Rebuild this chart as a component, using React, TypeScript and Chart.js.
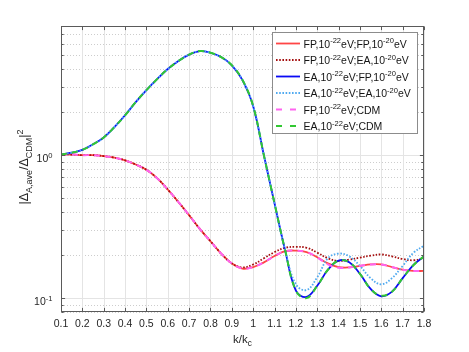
import React, { useEffect, useRef } from 'react';
import { Chart, registerables } from 'chart.js';

Chart.register(...registerables);

const K = [0.1, 0.15, 0.2, 0.25, 0.3, 0.35, 0.4, 0.45, 0.5, 0.55, 0.6, 0.65, 0.7, 0.75, 0.8, 0.85, 0.9, 0.95, 1.0, 1.05, 1.1, 1.15, 1.2, 1.25, 1.3, 1.35, 1.4, 1.45, 1.5, 1.55, 1.6, 1.65, 1.7, 1.75, 1.8];

const FP_FP = [1.01, 1.01, 1.0, 1.0, 0.985, 0.96, 0.92, 0.86, 0.79, 0.69, 0.575, 0.47, 0.38, 0.305, 0.25, 0.205, 0.175, 0.161, 0.165, 0.178, 0.197, 0.213, 0.215, 0.21, 0.193, 0.175, 0.165, 0.164, 0.168, 0.172, 0.172, 0.165, 0.158, 0.155, 0.155];
const FP_EA = [1.01, 1.01, 1.0, 1.0, 0.985, 0.96, 0.92, 0.86, 0.79, 0.69, 0.575, 0.47, 0.38, 0.305, 0.25, 0.205, 0.175, 0.164, 0.172, 0.19, 0.21, 0.225, 0.228, 0.225, 0.208, 0.19, 0.182, 0.186, 0.192, 0.198, 0.202, 0.196, 0.188, 0.184, 0.19];
const EA_FP = [1.01, 1.04, 1.09, 1.19, 1.33, 1.57, 1.9, 2.35, 2.85, 3.4, 4.0, 4.55, 5.05, 5.34, 5.2, 4.85, 4.25, 3.35, 2.2, 1.0, 0.46, 0.215, 0.113, 0.102, 0.122, 0.158, 0.183, 0.178, 0.148, 0.116, 0.103, 0.111, 0.138, 0.17, 0.196];
const EA_EA = [1.01, 1.04, 1.09, 1.19, 1.33, 1.57, 1.9, 2.35, 2.85, 3.4, 4.0, 4.55, 5.05, 5.34, 5.2, 4.85, 4.25, 3.35, 2.2, 1.0, 0.46, 0.215, 0.125, 0.114, 0.14, 0.19, 0.205, 0.196, 0.168, 0.138, 0.125, 0.138, 0.168, 0.207, 0.233];
const FP_CDM = [1.01, 1.01, 1.0, 1.0, 0.985, 0.96, 0.92, 0.86, 0.79, 0.69, 0.575, 0.47, 0.38, 0.305, 0.25, 0.205, 0.175, 0.161, 0.165, 0.178, 0.197, 0.213, 0.215, 0.21, 0.193, 0.172, 0.163, 0.164, 0.168, 0.172, 0.172, 0.165, 0.158, 0.155, 0.155];
const EA_CDM = [1.01, 1.04, 1.09, 1.19, 1.33, 1.57, 1.9, 2.35, 2.85, 3.4, 4.0, 4.55, 5.05, 5.34, 5.2, 4.85, 4.25, 3.35, 2.2, 1.0, 0.46, 0.215, 0.113, 0.1, 0.122, 0.158, 0.183, 0.178, 0.148, 0.116, 0.104, 0.111, 0.138, 0.17, 0.196];

const X_TICKS = [0.1, 0.2, 0.3, 0.4, 0.5, 0.6, 0.7, 0.8, 0.9, 1, 1.1, 1.2, 1.3, 1.4, 1.5, 1.6, 1.7, 1.8];
const X_TICK_LABELS = ['0.1', '0.2', '0.3', '0.4', '0.5', '0.6', '0.7', '0.8', '0.9', '1', '1.1', '1.2', '1.3', '1.4', '1.5', '1.6', '1.7', '1.8'];
const Y_MAJOR = [0.1, 1];
const Y_MAJOR_EXP = ['-1', '0'];
const Y_MINOR = [0.08, 0.09, 0.2, 0.3, 0.4, 0.5, 0.6, 0.7, 0.8, 0.9, 2, 3, 4, 5, 6, 7, 8];

type Seg = [string, number]; // 0 normal, 1 superscript, -1 subscript

const LEGEND: Seg[][] = [
  [['FP,10', 0], ['-22', 1], ['eV;FP,10', 0], ['-20', 1], ['eV', 0]],
  [['FP,10', 0], ['-22', 1], ['eV;EA,10', 0], ['-20', 1], ['eV', 0]],
  [['EA,10', 0], ['-22', 1], ['eV;FP,10', 0], ['-20', 1], ['eV', 0]],
  [['EA,10', 0], ['-22', 1], ['eV;EA,10', 0], ['-20', 1], ['eV', 0]],
  [['FP,10', 0], ['-22', 1], ['eV;CDM', 0]],
  [['EA,10', 0], ['-22', 1], ['eV;CDM', 0]],
];

const FONT = '"Liberation Sans", Arial, Helvetica, sans-serif';

const STYLES = [
  { color: 'rgb(255,70,70)', dash: [] as number[], width: 1.8 },
  { color: 'rgb(165,15,15)', dash: [1.6, 1.6], width: 1.8 },
  { color: 'rgb(10,10,245)', dash: [] as number[], width: 1.8 },
  { color: 'rgb(80,170,240)', dash: [1.6, 1.6], width: 1.8 },
  { color: 'rgb(255,100,240)', dash: [6, 5], width: 2 },
  { color: 'rgb(50,200,50)', dash: [6, 5], width: 2 },
];
const SERIES = [FP_FP, FP_EA, EA_FP, EA_EA, FP_CDM, EA_CDM];

function richWidth(ctx: CanvasRenderingContext2D, segs: Seg[], size: number) {
  let w = 0;
  for (const [t, s] of segs) {
    ctx.font = `${s === 0 ? size : size * 0.72}px ${FONT}`;
    w += ctx.measureText(t).width;
  }
  return w;
}

function drawRich(ctx: CanvasRenderingContext2D, segs: Seg[], x: number, y: number, size: number, align: 'left' | 'center' | 'right') {
  const w = richWidth(ctx, segs, size);
  let cx = align === 'left' ? x : align === 'center' ? x - w / 2 : x - w;
  ctx.textAlign = 'left';
  ctx.textBaseline = 'alphabetic';
  for (const [t, s] of segs) {
    ctx.font = `${s === 0 ? size : size * 0.72}px ${FONT}`;
    const off = s === 1 ? -size * 0.42 : s === -1 ? size * 0.3 : 0;
    ctx.fillText(t, cx, y + off);
    cx += ctx.measureText(t).width;
  }
}

const decorPlugin = {
  id: 'decor',
  beforeDatasetsDraw(chart: any) {
    const { ctx, chartArea: a, scales } = chart;
    const xs = scales.x, ys = scales.y;
    ctx.save();
    ctx.lineWidth = 1;
    ctx.strokeStyle = 'rgb(205,205,205)';
    ctx.setLineDash([1, 2]);
    for (const v of Y_MINOR) {
      const y = Math.round(ys.getPixelForValue(v)) + 0.5;
      ctx.beginPath(); ctx.moveTo(a.left, y); ctx.lineTo(a.right, y); ctx.stroke();
    }
    ctx.setLineDash([]);
    ctx.strokeStyle = 'rgb(228,228,228)';
    for (const v of X_TICKS) {
      const x = Math.round(xs.getPixelForValue(v)) + 0.5;
      ctx.beginPath(); ctx.moveTo(x, a.top); ctx.lineTo(x, a.bottom); ctx.stroke();
    }
    for (const v of Y_MAJOR) {
      const y = Math.round(ys.getPixelForValue(v)) + 0.5;
      ctx.beginPath(); ctx.moveTo(a.left, y); ctx.lineTo(a.right, y); ctx.stroke();
    }
    ctx.restore();
  },
  afterDraw(chart: any) {
    const { ctx, chartArea: a, scales } = chart;
    const xs = scales.x, ys = scales.y;
    ctx.save();
    ctx.strokeStyle = 'rgb(90,90,90)';
    ctx.lineWidth = 1;
    const L = Math.round(a.left) + 0.5, R = Math.round(a.right) - 0.5, T = Math.round(a.top) + 0.5, B = Math.round(a.bottom) - 0.5;
    ctx.strokeRect(L, T, R - L, B - T);
    ctx.beginPath();
    for (const v of X_TICKS) {
      const x = Math.round(xs.getPixelForValue(v)) + 0.5;
      ctx.moveTo(x, B); ctx.lineTo(x, B - 3.6);
      ctx.moveTo(x, T); ctx.lineTo(x, T + 3.6);
    }
    for (const v of Y_MAJOR) {
      const y = Math.round(ys.getPixelForValue(v)) + 0.5;
      ctx.moveTo(L, y); ctx.lineTo(L + 3.6, y);
      ctx.moveTo(R, y); ctx.lineTo(R - 3.6, y);
    }
    for (const v of Y_MINOR) {
      const y = Math.round(ys.getPixelForValue(v)) + 0.5;
      ctx.moveTo(L, y); ctx.lineTo(L + 2.2, y);
      ctx.moveTo(R, y); ctx.lineTo(R - 2.2, y);
    }
    ctx.stroke();

    ctx.fillStyle = 'rgb(38,38,38)';
    X_TICKS.forEach((v, i) => {
      drawRich(ctx, [[X_TICK_LABELS[i], 0]], xs.getPixelForValue(v), B + 15.5, 10.5, 'center');
    });
    Y_MAJOR.forEach((v, i) => {
      const y = ys.getPixelForValue(v);
      drawRich(ctx, [['10', 0], [Y_MAJOR_EXP[i], 1]], L - 9, y + 7, 10.5, 'right');
    });

    drawRich(ctx, [['k/k', 0], ['c', -1]], (L + R) / 2, B + 31, 11.5, 'center');
    ctx.save();
    ctx.translate(28, (T + B) / 2 - 2);
    ctx.rotate(-Math.PI / 2);
    drawRich(ctx, [['|Δ', 0], ['A,ave', -1], ['/Δ', 0], ['CDM', -1], ['|', 0], ['2', 1]], 0, 0, 12.5, 'center');
    ctx.restore();

    const lx = 272.5, ly = 32.5, lw = 145, lh = 101;
    ctx.fillStyle = '#ffffff';
    ctx.fillRect(lx, ly, lw, lh);
    ctx.strokeStyle = 'rgb(140,140,140)';
    ctx.lineWidth = 1;
    ctx.strokeRect(lx, ly, lw, lh);
    LEGEND.forEach((segs, i) => {
      const yy = 43.5 + i * 16.5;
      const st = STYLES[i];
      ctx.strokeStyle = st.color;
      ctx.lineWidth = st.width;
      ctx.setLineDash(st.dash.length ? (i >= 4 ? [6, 8] : st.dash) : []);
      ctx.beginPath(); ctx.moveTo(276, yy); ctx.lineTo(300, yy); ctx.stroke();
      ctx.setLineDash([]);
      ctx.fillStyle = 'rgb(20,20,20)';
      drawRich(ctx, segs, 303.5, yy + 4, 10.5, 'left');
    });
    ctx.restore();
  },
};

export default function App() {
  const ref = useRef<HTMLCanvasElement | null>(null);
  useEffect(() => {
    if (!ref.current) return;
    const datasets = SERIES.map((vals, i) => ({
      label: 'series' + i,
      data: K.map((k, j) => ({ x: k, y: vals[j] })),
      borderColor: STYLES[i].color,
      borderWidth: STYLES[i].width,
      borderDash: STYLES[i].dash,
      pointRadius: 0,
      fill: false,
      tension: 0.4,
      order: SERIES.length - i,
    }));
    const chart = new Chart(ref.current, {
      type: 'line',
      data: { datasets },
      options: {
        animation: false,
        responsive: false,
        devicePixelRatio: 1,
        layout: { padding: { left: 61, right: 45, top: 26, bottom: 40 } },
        scales: {
          x: { type: 'linear', min: 0.1, max: 1.8, display: false },
          y: { type: 'logarithmic', min: 0.08, max: 8, display: false },
        },
        plugins: { legend: { display: false }, tooltip: { enabled: false } },
      },
      plugins: [decorPlugin],
    } as any);
    return () => chart.destroy();
  }, []);
  return (
    <div style={{ position: 'fixed', left: 0, top: 0, width: 469, height: 352, background: '#fff' }}>
      <canvas ref={ref} width={469} height={352} style={{ width: 469, height: 352, display: 'block' }} />
    </div>
  );
}
